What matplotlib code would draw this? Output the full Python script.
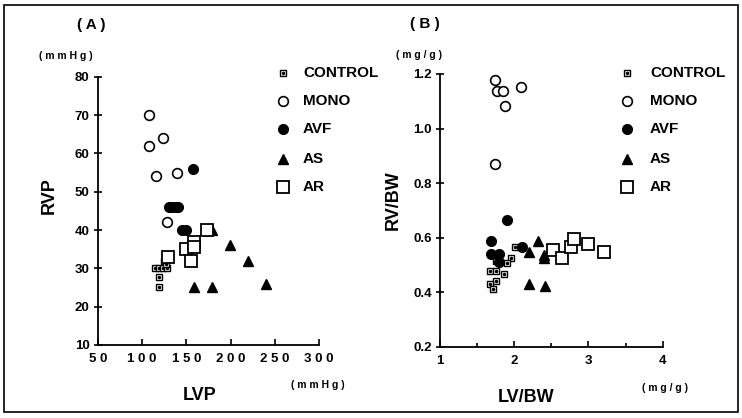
import matplotlib
matplotlib.use("Agg")
import matplotlib.pyplot as plt
from matplotlib.patches import Rectangle

plt.rcParams['font.family'] = ['Liberation Sans', 'DejaVu Sans']
plt.rcParams['font.weight'] = 'bold'

groups = ["CONTROL", "MONO", "AVF", "AS", "AR"]

# Panel A: LVP vs RVP (mmHg)
a_control_x = [114, 119, 124, 128, 119, 119, 125, 127]
a_control_y = [30, 30, 30, 30, 27.8, 25, 32, 31]
a_mono_x = [108, 108, 124, 116, 139, 128]
a_mono_y = [70, 62, 64, 54, 55, 42]
a_avf_x = [158, 130, 134, 138, 141, 145, 149]
a_avf_y = [56, 46, 46, 46, 46, 40, 40]
a_as_x = [179, 199, 220, 240, 159, 179]
a_as_y = [40, 36, 32, 26, 25, 25]
a_ar_x = [173, 149, 159, 159, 155, 129]
a_ar_y = [40, 35, 37, 35.5, 32, 33]

# Panel B: LV/BW vs RV/BW (mg/g)
b_control_x = [2.01, 1.96, 1.90, 1.86, 1.68, 1.75, 1.76, 1.68, 1.71, 1.75]
b_control_y = [0.565, 0.527, 0.508, 0.469, 0.479, 0.479, 0.442, 0.429, 0.412, 0.514]
b_mono_x = [1.74, 1.77, 1.85, 1.87, 2.09, 1.74]
b_mono_y = [1.178, 1.139, 1.139, 1.083, 1.152, 0.871]
b_avf_x = [1.90, 1.69, 1.69, 1.79, 1.80, 2.11]
b_avf_y = [0.666, 0.587, 0.54, 0.54, 0.51, 0.565]
b_as_x = [2.32, 2.20, 2.40, 2.40, 2.20, 2.42]
b_as_y = [0.587, 0.547, 0.537, 0.527, 0.43, 0.425]
b_ar_x = [2.52, 2.64, 2.77, 2.81, 3.00, 3.21]
b_ar_y = [0.555, 0.527, 0.565, 0.594, 0.578, 0.547]

a_xticks = [50, 100, 150, 200, 250, 300]
a_xlabels = ["5 0", "1 0 0", "1 5 0", "2 0 0", "2 5 0", "3 0 0"]
a_yticks = [10, 20, 30, 40, 50, 60, 70, 80]
b_xticks = [1, 2, 3, 4]
b_yticks = [0.2, 0.4, 0.6, 0.8, 1.0, 1.2]

fig = plt.figure(figsize=(7.42, 4.18), dpi=100)
fig.patches.append(Rectangle((0.005, 0.014), 0.99, 0.974, transform=fig.transFigure,
                             fill=False, edgecolor='black', linewidth=1.2))

axA = fig.add_axes([0.132, 0.175, 0.298, 0.641])
axB = fig.add_axes([0.593, 0.170, 0.300, 0.653])


def draw(ax, data):
    (cx, cy), (mx, my), (fx, fy), (sx, sy), (rx, ry) = data
    ax.plot(cx, cy, 's', ms=4.5, mfc='white', mec='black', mew=1.0, clip_on=False)
    ax.plot(cx, cy, 'o', ms=1.5, mfc='black', mec='black', clip_on=False)
    ax.plot(mx, my, 'o', ms=7, mfc='white', mec='black', mew=1.2, clip_on=False)
    ax.plot(fx, fy, 'o', ms=7, mfc='black', mec='black', clip_on=False)
    ax.plot(sx, sy, '^', ms=7.5, mfc='black', mec='black', clip_on=False)
    ax.plot(rx, ry, 's', ms=8, mfc='white', mec='black', mew=1.3, clip_on=False)
    for s in ['top', 'right']:
        ax.spines[s].set_visible(False)
    for s in ['left', 'bottom']:
        ax.spines[s].set_linewidth(1.3)
    ax.tick_params(axis='y', direction='inout', length=6, width=1.2, labelsize=9.5, pad=3)
    ax.tick_params(axis='x', direction='in', length=4, width=1.2, labelsize=9.5, pad=6)


draw(axA, [(a_control_x, a_control_y), (a_mono_x, a_mono_y), (a_avf_x, a_avf_y),
           (a_as_x, a_as_y), (a_ar_x, a_ar_y)])
axA.set_xlim(50, 300)
axA.set_ylim(10, 80)
axA.set_xticks(a_xticks)
axA.set_xticklabels(a_xlabels)
axA.set_yticks(a_yticks)

draw(axB, [(b_control_x, b_control_y), (b_mono_x, b_mono_y), (b_avf_x, b_avf_y),
           (b_as_x, b_as_y), (b_ar_x, b_ar_y)])
axB.set_xlim(1, 4)
axB.set_ylim(0.2, 1.2)
axB.set_xticks(b_xticks)
axB.set_xticks([1.5, 2.5, 3.5], minor=True)
axB.tick_params(axis='x', which='minor', direction='in', length=3, width=1.2)
axB.set_yticks(b_yticks)
axB.set_yticklabels([f"{v:.1f}" for v in b_yticks])

# legends drawn as marker + text in figure pixel coords
legend_style = [
    dict(marker='s', ms=4.5, mfc='white', mec='black', mew=1.0),
    dict(marker='o', ms=7, mfc='white', mec='black', mew=1.2),
    dict(marker='o', ms=7, mfc='black', mec='black'),
    dict(marker='^', ms=7.5, mfc='black', mec='black'),
    dict(marker='s', ms=8, mfc='white', mec='black', mew=1.3),
]
legend_rows = [73, 101, 129, 159, 187]
H = 418.0
W = 742.0
for mx_px, tx_px in [(283, 303), (627, 650)]:
    for i, name in enumerate(groups):
        yy = 1 - legend_rows[i] / H
        fig.lines.append(plt.Line2D([mx_px / W], [yy], transform=fig.transFigure,
                                    linestyle='none', **legend_style[i]))
        if i == 0:
            fig.lines.append(plt.Line2D([mx_px / W], [yy], transform=fig.transFigure,
                                        linestyle='none', marker='o', ms=1.5,
                                        mfc='black', mec='black'))
        fig.text(tx_px / W, yy, name, fontsize=11, fontweight='bold', va='center', ha='left')

def ftext(x, y, s, **kw):
    fig.text(x / W, 1 - y / H, s, fontweight='bold', **kw)

ftext(91, 25, "( A )", fontsize=11, ha='center', va='center')
ftext(425, 24, "( B )", fontsize=11, ha='center', va='center')
ftext(66, 56, "( m m H g )", fontsize=7.5, ha='center', va='center')
ftext(318, 385, "( m m H g )", fontsize=7.5, ha='center', va='center')
ftext(419, 55, "( m g / g )", fontsize=7.5, ha='center', va='center')
ftext(665, 388, "( m g / g )", fontsize=7.5, ha='center', va='center')
ftext(49, 196, "RVP", fontsize=13, ha='center', va='center', rotation=90)
ftext(393, 200, "RV/BW", fontsize=13, ha='center', va='center', rotation=90)
ftext(200, 395, "LVP", fontsize=13, ha='center', va='center')
ftext(526, 397, "LV/BW", fontsize=13, ha='center', va='center')

fig.savefig("out.png", dpi=100)
